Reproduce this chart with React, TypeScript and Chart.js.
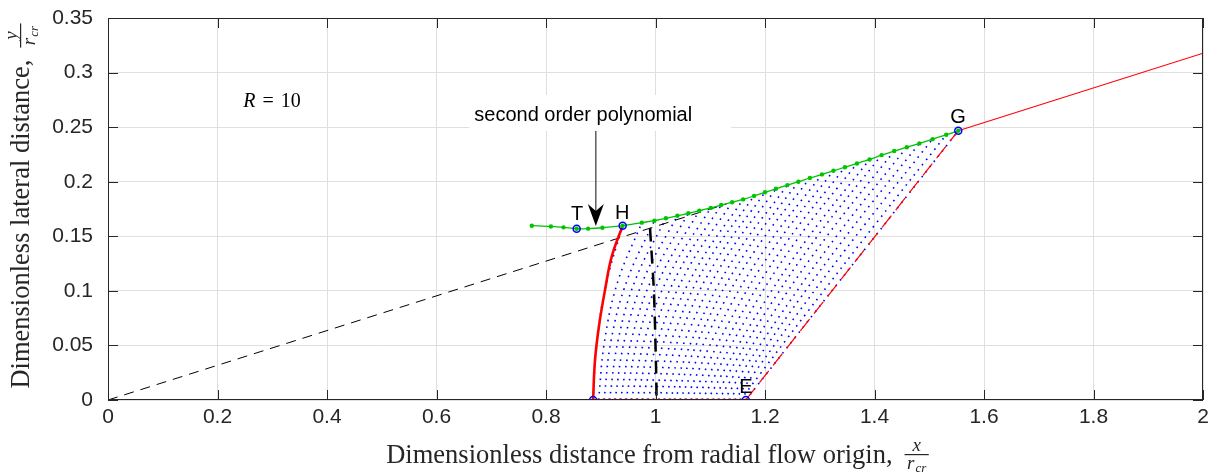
import React, { useEffect, useRef } from 'react';
import { Chart, registerables } from 'chart.js';

Chart.register(...registerables);

// ---------- axes ----------
const xTickValues = [0, 0.2, 0.4, 0.6, 0.8, 1, 1.2, 1.4, 1.6, 1.8, 2];
const xTickLabels = ['0', '0.2', '0.4', '0.6', '0.8', '1', '1.2', '1.4', '1.6', '1.8', '2'];
const yTickValues = [0, 0.05, 0.1, 0.15, 0.2, 0.25, 0.3, 0.35];
const yTickLabels = ['0', '0.05', '0.1', '0.15', '0.2', '0.25', '0.3', '0.35'];

const xTitle = 'Dimensionless distance from radial flow origin,';
const yTitle = 'Dimensionless lateral distance,';

// ---------- wall contour (second order polynomial + characteristic wall points) ----------
const wallX = [0.774, 0.809, 0.832, 0.856, 0.877, 0.903, 0.940, 0.975, 0.998, 1.019, 1.040, 1.060, 1.080, 1.101, 1.120, 1.140, 1.160, 1.180, 1.200, 1.220, 1.241, 1.261, 1.282, 1.304, 1.325, 1.346, 1.368, 1.391, 1.413, 1.436, 1.459, 1.482, 1.506, 1.531, 1.553];
const wallY = [0.1597, 0.1590, 0.1582, 0.1569, 0.1570, 0.1578, 0.1597, 0.1625, 0.1643, 0.1665, 0.1688, 0.1711, 0.1734, 0.1760, 0.1786, 0.1812, 0.1838, 0.1870, 0.1903, 0.1935, 0.1969, 0.2000, 0.2034, 0.2067, 0.2100, 0.2133, 0.2167, 0.2204, 0.2244, 0.2281, 0.2316, 0.2351, 0.2390, 0.2430, 0.2467];
const wallStartIndex = 6; // H

// ---------- initial line (red) ----------
const initialLineX = [0.886, 0.8895, 0.8975, 0.9078, 0.920, 0.940];
const initialLineY = [0, 0.0366, 0.0702, 0.1008, 0.1313, 0.1597];

// ---------- characteristic mesh (blue dotted) ----------
const meshBottomX = [0.886, 0.896, 0.906, 0.916, 0.926, 0.936, 0.946, 0.956, 0.966, 0.976, 0.986, 0.996, 1.006, 1.016, 1.026, 1.035, 1.045, 1.055, 1.065, 1.075, 1.085, 1.095, 1.105, 1.115, 1.125, 1.135, 1.145, 1.155, 1.165];
const meshMidX1 = [0.893, 0.907, 0.919, 0.932, 0.944, 0.957, 0.969, 0.982, 0.995, 1.008, 1.021, 1.035, 1.048, 1.062, 1.076, 1.089, 1.103, 1.118, 1.133, 1.148, 1.163, 1.179, 1.194, 1.210, 1.227, 1.243, 1.260, 1.278, 1.294];
const meshMidY1 = [0.0532, 0.0542, 0.0548, 0.0555, 0.0563, 0.0570, 0.0578, 0.0587, 0.0595, 0.0604, 0.0613, 0.0623, 0.0634, 0.0645, 0.0656, 0.0667, 0.0678, 0.0689, 0.0700, 0.0711, 0.0722, 0.0735, 0.0748, 0.0760, 0.0772, 0.0784, 0.0797, 0.0810, 0.0822];
const meshMidX2 = [0.910, 0.931, 0.948, 0.964, 0.980, 0.996, 1.012, 1.028, 1.044, 1.060, 1.077, 1.093, 1.110, 1.127, 1.145, 1.162, 1.180, 1.199, 1.217, 1.236, 1.255, 1.276, 1.295, 1.316, 1.337, 1.358, 1.380, 1.403, 1.424];
const meshMidY2 = [0.1065, 0.1083, 0.1095, 0.1110, 0.1125, 0.1141, 0.1156, 0.1173, 0.1191, 0.1208, 0.1225, 0.1247, 0.1269, 0.1290, 0.1313, 0.1333, 0.1356, 0.1378, 0.1400, 0.1422, 0.1445, 0.1469, 0.1496, 0.1521, 0.1544, 0.1567, 0.1593, 0.1620, 0.1645];

// ---------- other lines ----------
const sonicX = [0.990, 0.997, 1.001, 1.002];
const sonicY = [0.157, 0.100, 0.030, 0];
const radialDashX = [0, 1.13];
const radialDashY = [0, 0.1797];
const radialSolidX = [1.553, 2];
const radialSolidY = [0.2467, 0.3177];
const lastCharX = [1.165, 1.553];
const lastCharY = [0, 0.2467];

// ---------- marked points ----------
const markX = [0.856, 0.940, 1.553, 1.165, 0.886];
const markY = [0.1569, 0.1597, 0.2467, 0, 0];
const labelText = ['T', 'H', 'G', 'E'];
const labelX = [0.857, 0.939, 1.5525, 1.165];
const labelY = [0.1704, 0.1713, 0.2584, 0.0119];

// ---------- annotations ----------
const noteText = 'second order polynomial';
const noteX = 0.868;
const noteY = 0.2611;
const arrowX = 0.891;
const arrowFromY = 0.2465;
const arrowToY = 0.1594;
const rLabelX = 0.2995;
const rLabelY = 0.2734;
const rLabelValue = '10';

const SANS = '"Liberation Sans", Arial, Helvetica, sans-serif';
const SERIF = '"Liberation Serif", "Times New Roman", serif';
const AX = '#262626';

const toXY = (xs: number[], ys: number[]) => xs.map((v, i) => ({ x: v, y: ys[i] }));

function drawFraction(ctx: CanvasRenderingContext2D, u0: number, num: string, den: string, sub: string, measureOnly = false) {
  ctx.font = `italic 19px ${SERIF}`;
  const wn = ctx.measureText(num).width;
  const wr = ctx.measureText(den).width;
  ctx.font = `italic 13px ${SERIF}`;
  const ws = ctx.measureText(sub).width;
  const wd = wr + ws + 1;
  const bw = Math.max(wn, wd) + 5;
  if (measureOnly) return bw;
  ctx.fillRect(u0, -9, bw, 1.2);
  ctx.font = `italic 19px ${SERIF}`;
  ctx.fillText(num, u0 + (bw - wn) / 2, -12);
  ctx.fillText(den, u0 + (bw - wd) / 2, 6);
  ctx.font = `italic 13px ${SERIF}`;
  ctx.fillText(sub, u0 + (bw - wd) / 2 + wr + 1, 9);
  return bw;
}

function drawTitle(ctx: CanvasRenderingContext2D, text: string, num: string) {
  ctx.fillStyle = AX;
  ctx.textAlign = 'left';
  ctx.textBaseline = 'alphabetic';
  ctx.font = `26.5px ${SERIF}`;
  const w = ctx.measureText(text).width;
  const gap = 12;
  const fw = drawFraction(ctx, 0, num, 'r', 'cr', true);
  const start = -(w + gap + fw) / 2;
  ctx.font = `26.5px ${SERIF}`;
  ctx.fillText(text, start, 0);
  drawFraction(ctx, start + w + gap, num, 'r', 'cr');
}

const annotate = {
  id: 'annotate',
  beforeDatasetsDraw(chart: any) {
    const { ctx } = chart;
    const x = chart.scales.x;
    const y = chart.scales.y;
    ctx.save();
    ctx.font = `20px ${SANS}`;
    const w = ctx.measureText(noteText).width;
    const cx = x.getPixelForValue(noteX);
    const cy = y.getPixelForValue(noteY);
    ctx.fillStyle = '#ffffff';
    ctx.fillRect(cx - w / 2 - 5, cy - 20, w + 44, 36);
    ctx.restore();
  },
  afterDatasetsDraw(chart: any) {
    const { ctx, chartArea: a } = chart;
    const x = chart.scales.x;
    const y = chart.scales.y;
    ctx.save();
    // box + inner ticks
    ctx.strokeStyle = AX;
    ctx.lineWidth = 1;
    ctx.beginPath();
    xTickValues.forEach((v) => {
      const px = Math.round(x.getPixelForValue(v)) + 0.5;
      ctx.moveTo(px, a.bottom);
      ctx.lineTo(px, a.bottom - 10);
      ctx.moveTo(px, a.top);
      ctx.lineTo(px, a.top + 10);
    });
    yTickValues.forEach((v) => {
      const py = Math.round(y.getPixelForValue(v)) + 0.5;
      ctx.moveTo(a.left, py);
      ctx.lineTo(a.left + 10, py);
      ctx.moveTo(a.right, py);
      ctx.lineTo(a.right - 10, py);
    });
    ctx.stroke();
    ctx.strokeRect(Math.round(a.left) + 0.5, Math.round(a.top) + 0.5, Math.round(a.right - a.left) - 1, Math.round(a.bottom - a.top) - 1);

    // point labels
    ctx.fillStyle = '#000';
    ctx.font = `20px ${SANS}`;
    ctx.textAlign = 'center';
    ctx.textBaseline = 'middle';
    labelText.forEach((t, i) => {
      ctx.fillText(t, x.getPixelForValue(labelX[i]), y.getPixelForValue(labelY[i]));
    });

    // note text
    ctx.font = `20px ${SANS}`;
    ctx.fillText(noteText, x.getPixelForValue(noteX), y.getPixelForValue(noteY));

    // arrow
    const ax = x.getPixelForValue(arrowX);
    const ay0 = y.getPixelForValue(arrowFromY);
    const ay1 = y.getPixelForValue(arrowToY);
    ctx.strokeStyle = '#444';
    ctx.lineWidth = 1.3;
    ctx.beginPath();
    ctx.moveTo(ax, ay0);
    ctx.lineTo(ax, ay1 - 14);
    ctx.stroke();
    ctx.fillStyle = '#000';
    ctx.beginPath();
    ctx.moveTo(ax, ay1);
    ctx.lineTo(ax - 8, ay1 - 22);
    ctx.lineTo(ax, ay1 - 15);
    ctx.lineTo(ax + 8, ay1 - 22);
    ctx.closePath();
    ctx.fill();

    // R = 10
    const rx = x.getPixelForValue(rLabelX);
    const ry = y.getPixelForValue(rLabelY);
    ctx.textAlign = 'left';
    ctx.textBaseline = 'middle';
    ctx.font = `italic 20px ${SERIF}`;
    const wR = ctx.measureText('R').width;
    ctx.font = `20px ${SERIF}`;
    const wEq = ctx.measureText('=').width;
    const wV = ctx.measureText(rLabelValue).width;
    const sp = 7;
    const total = wR + sp + wEq + sp + wV;
    let px = rx - total / 2;
    ctx.fillStyle = '#000';
    ctx.font = `italic 20px ${SERIF}`;
    ctx.fillText('R', px, ry);
    px += wR + sp;
    ctx.font = `20px ${SERIF}`;
    ctx.fillText('=', px, ry);
    px += wEq + sp;
    ctx.fillText(rLabelValue, px, ry);
    ctx.restore();
  },
  afterDraw(chart: any) {
    const { ctx, chartArea: a } = chart;
    ctx.save();
    ctx.translate((a.left + a.right) / 2 + 2, a.bottom + 63);
    drawTitle(ctx, xTitle, 'x');
    ctx.restore();
    ctx.save();
    ctx.translate(a.left - 79, (a.top + a.bottom) / 2 - 3);
    ctx.rotate(-Math.PI / 2);
    drawTitle(ctx, yTitle, 'y');
    ctx.restore();
  },
};

export default function App() {
  const ref = useRef<HTMLCanvasElement>(null);
  useEffect(() => {
    if (!ref.current) return;
    const meshSets = meshBottomX.map((xb, i) => ({
      data: [
        { x: xb, y: 0 },
        { x: meshMidX1[i], y: meshMidY1[i] },
        { x: meshMidX2[i], y: meshMidY2[i] },
        { x: wallX[wallStartIndex + i], y: wallY[wallStartIndex + i] },
      ],
      showLine: true,
      borderColor: '#0000ff',
      borderWidth: 1.6,
      borderDash: [1.6, 5],
      pointRadius: 0,
      tension: 0.4,
      order: 20,
    }));
    const line = (xs: number[], ys: number[], extra: any) => ({
      data: toXY(xs, ys),
      showLine: true,
      pointRadius: 0,
      ...extra,
    });
    const chart = new Chart(ref.current, {
      type: 'scatter',
      data: {
        datasets: [
          {
            data: toXY(markX, markY),
            pointRadius: 3.5,
            pointBorderWidth: 1.5,
            pointBorderColor: '#0000ff',
            pointBackgroundColor: 'rgba(0,0,0,0)',
            showLine: false,
            order: 0,
          },
          line(wallX, wallY, {
            borderColor: '#00c400',
            borderWidth: 1.3,
            pointRadius: 2.2,
            pointBorderWidth: 0,
            pointBackgroundColor: '#00c400',
            tension: 0.3,
            order: 1,
          }),
          line(initialLineX, initialLineY, { borderColor: '#ff0000', borderWidth: 2.6, tension: 0.4, order: 2 }),
          line(meshBottomX, meshBottomX.map(() => 0), {
            borderColor: '#ff0000',
            borderWidth: 1.5,
            pointRadius: 2,
            pointStyle: 'rect',
            pointBorderWidth: 0,
            pointBackgroundColor: '#ff2020',
            order: 3,
          }),
          line(sonicX, sonicY, { borderColor: '#000', borderWidth: 2.5, borderDash: [13, 9], tension: 0.3, order: 4 }),
          line(lastCharX, lastCharY, { borderColor: '#ff0000', borderWidth: 1.2, borderDash: [15, 7], order: 5 }),
          line(radialSolidX, radialSolidY, { borderColor: '#ff0000', borderWidth: 1.1, order: 6 }),
          line(radialDashX, radialDashY, { borderColor: '#000', borderWidth: 1, borderDash: [10, 7], order: 7 }),
          ...meshSets,
        ],
      },
      options: {
        animation: false,
        responsive: false,
        layout: { padding: { left: 0, right: 16, top: 18, bottom: 0 } },
        plugins: { legend: { display: false }, tooltip: { enabled: false } },
        scales: {
          x: {
            type: 'linear',
            min: 0,
            max: 2,
            afterBuildTicks: (s: any) => {
              s.ticks = xTickValues.map((v) => ({ value: v }));
            },
            afterFit: (s: any) => {
              s.height = 74;
              s.paddingLeft = 0;
              s.paddingRight = 0;
            },
            grid: { color: '#dfdfdf', drawTicks: false },
            border: { display: false },
            ticks: {
              padding: 5,
              autoSkip: false,
              maxRotation: 0,
              color: AX,
              font: { family: SANS, size: 21 },
              callback: (_v: any, i: number) => xTickLabels[i],
            },
          },
          y: {
            type: 'linear',
            min: 0,
            max: 0.35,
            afterBuildTicks: (s: any) => {
              s.ticks = yTickValues.map((v) => ({ value: v }));
            },
            afterFit: (s: any) => {
              s.width = 108;
              s.paddingTop = 0;
              s.paddingBottom = 0;
            },
            grid: { color: '#dfdfdf', drawTicks: false },
            border: { display: false },
            ticks: {
              padding: 15,
              autoSkip: false,
              color: AX,
              font: { family: SANS, size: 21 },
              callback: (_v: any, i: number) => yTickLabels[i],
            },
          },
        },
      } as any,
      plugins: [annotate],
    });
    return () => chart.destroy();
  }, []);
  return (
    <div style={{ position: 'fixed', left: 0, top: 0, width: 1219, height: 474, background: '#fff' }}>
      <canvas ref={ref} width={1219} height={474} style={{ display: 'block' }} />
    </div>
  );
}
